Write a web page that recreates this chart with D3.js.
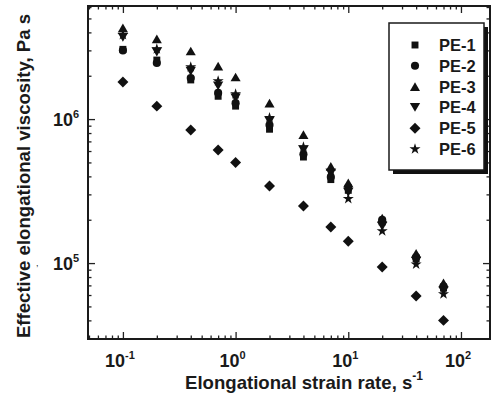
<!DOCTYPE html>
<html>
<head>
<meta charset="utf-8">
<script src="https://cdnjs.cloudflare.com/ajax/libs/d3/7.8.5/d3.min.js"></script>
<style>
  body { margin: 0; background: #fff; }
  text { font-family: "Liberation Sans", Arial, sans-serif; font-weight: bold; fill: #1a1a1a; }
</style>
</head>
<body>
<div id="chart"></div>
<script>
// strain rates (1/s) and effective elongational viscosity (Pa s) per sample
const rates = [0.1, 0.2, 0.4, 0.7, 1, 2, 4, 7, 10, 20, 40, 70];
const pe1 = [3.05e6, 2.57e6, 1.87e6, 1.44e6, 1.23e6, 8.5e5, 5.45e5, 3.8e5, 3.2e5, 1.93e5, 1.07e5, 6.7e4];
const pe2 = [3.0e6, 2.45e6, 1.93e6, 1.52e6, 1.29e6, 9.1e5, 5.7e5, 3.96e5, 3.37e5, 2.0e5, 1.1e5, 6.9e4];
const pe3 = [4.3e6, 3.6e6, 2.97e6, 2.33e6, 1.96e6, 1.29e6, 7.8e5, 4.7e5, 3.6e5, 2.05e5, 1.17e5, 7.3e4];
const pe4 = [3.7e6, 2.92e6, 2.15e6, 1.7e6, 1.4e6, 9.7e5, 6.1e5, 4.2e5, 3.1e5, 1.8e5, 1.03e5, 6.4e4];
const pe5 = [1.81e6, 1.23e6, 8.4e5, 6.1e5, 5.0e5, 3.43e5, 2.49e5, 1.78e5, 1.42e5, 9.4e4, 5.9e4, 4.0e4];
const pe6 = [3.85e6, 3.06e6, 2.3e6, 1.84e6, 1.49e6, 1.02e6, 6.4e5, 4.4e5, 2.8e5, 1.67e5, 9.8e4, 6.1e4];
const seriesNames = ['PE-1', 'PE-2', 'PE-3', 'PE-4', 'PE-5', 'PE-6'];
const xTickExp = [-1, 0, 1, 2];
const yTickExp = [5, 6];

const width = 494, height = 413;
const plot = { left: 88, right: 490, top: 6, bottom: 339 };

const svg = d3.select('#chart').append('svg')
    .attr('width', width)
    .attr('height', height);

const x = d3.scaleLog().domain([0.049, 181]).range([plot.left, plot.right]);
const y = d3.scaleLog().domain([2.97e4, 6.1e6]).range([plot.bottom, plot.top]);

// minor tick values inside the domain
function minors(scale) {
    let d = scale.domain(), out = [];
    for (let e = -3; e <= 8; e++) {
        for (let m = 2; m <= 9; m++) {
            let v = m * Math.pow(10, e);
            if (v > d[0] && v < d[1]) out.push(v);
        }
    }
    return out;
}
const xMajor = xTickExp.map(e => Math.pow(10, e));
const yMajor = yTickExp.map(e => Math.pow(10, e));

// ticks point inward on all four sides
function drawAxis(axisFn, scale, major, transform) {
    svg.append('g').attr('class', 'axis').attr('transform', transform)
        .call(axisFn(scale).tickValues(major).tickSize(-7).tickFormat(''));
    svg.append('g').attr('class', 'axis').attr('transform', transform)
        .call(axisFn(scale).tickValues(minors(scale)).tickSize(-3.5).tickFormat(''));
}
drawAxis(d3.axisBottom, x, xMajor, 'translate(0,' + plot.bottom + ')');
drawAxis(d3.axisTop, x, xMajor, 'translate(0,' + plot.top + ')');
drawAxis(d3.axisLeft, y, yMajor, 'translate(' + plot.left + ',0)');
drawAxis(d3.axisRight, y, yMajor, 'translate(' + plot.right + ',0)');
svg.selectAll('.axis path.domain').remove();
svg.selectAll('.axis line').attr('stroke', '#222').attr('stroke-width', 1.3);

// frame
svg.append('rect')
    .attr('x', plot.left).attr('y', plot.top)
    .attr('width', plot.right - plot.left).attr('height', plot.bottom - plot.top)
    .attr('fill', 'none').attr('stroke', '#1a1a1a').attr('stroke-width', 2);

// tick labels with superscript exponents
svg.selectAll('.xlab').data(xTickExp).enter().append('text')
    .attr('class', 'xlab')
    .attr('x', d => x(Math.pow(10, d)) - 3)
    .attr('y', 367)
    .attr('text-anchor', 'middle')
    .style('font-size', '18px')
    .each(function(d) {
        let t = d3.select(this);
        t.append('tspan').text('10');
        t.append('tspan').attr('dy', -8).style('font-size', '11px').text(d < 0 ? '-' + (-d) : d);
    });
svg.selectAll('.ylab').data(yTickExp).enter().append('text')
    .attr('class', 'ylab')
    .attr('x', 53)
    .attr('y', d => y(Math.pow(10, d)) + 7)
    .style('font-size', '18px')
    .each(function(d) {
        let t = d3.select(this);
        t.append('tspan').text('10');
        t.append('tspan').attr('dy', -8).style('font-size', '11px').text(d);
    });

// axis titles
let xt = svg.append('text')
    .attr('x', 185).attr('y', 389)
    .style('font-size', '18.6px');
xt.append('tspan').text('Elongational strain rate, s');
xt.append('tspan').attr('dy', -9).style('font-size', '12px').text('-1');

svg.append('text')
    .attr('transform', 'translate(30,176) rotate(-90)')
    .attr('text-anchor', 'middle')
    .style('font-size', '18.6px')
    .text('Effective elongational viscosity, Pa s');
svg.append('text')
    .attr('x', 36).attr('y', 266)
    .style('font-size', '9px').style('font-weight', 'normal')
    .text(',');

// marker shapes
const downTriangle = {
    draw: function(ctx, size) {
        let h = Math.sqrt(size * 4 / Math.sqrt(3)) * Math.sqrt(3) / 2;
        let w = h / Math.sqrt(3) * 2;
        ctx.moveTo(-w / 2, -h / 2);
        ctx.lineTo(w / 2, -h / 2);
        ctx.lineTo(0, h / 2);
        ctx.closePath();
    }
};
const upTriangle = {
    draw: function(ctx, size) {
        let h = Math.sqrt(size * 4 / Math.sqrt(3)) * Math.sqrt(3) / 2;
        let w = h / Math.sqrt(3) * 2;
        ctx.moveTo(0, -h / 2);
        ctx.lineTo(w / 2, h / 2);
        ctx.lineTo(-w / 2, h / 2);
        ctx.closePath();
    }
};
const squareDiamond = {
    draw: function(ctx, size) {
        let r = Math.sqrt(size / 2);
        ctx.moveTo(0, -r);
        ctx.lineTo(r, 0);
        ctx.lineTo(0, r);
        ctx.lineTo(-r, 0);
        ctx.closePath();
    }
};
const shapes = [
    d3.symbol(d3.symbolSquare, 48),
    d3.symbol(d3.symbolCircle, 52),
    d3.symbol(upTriangle, 44),
    d3.symbol(downTriangle, 46),
    d3.symbol(squareDiamond, 60),
    d3.symbol(d3.symbolStar, 38)
];
const allSeries = [pe1, pe2, pe3, pe4, pe5, pe6];

allSeries.forEach(function(vals, i) {
    svg.append('g').selectAll('path')
        .data(vals)
        .enter().append('path')
        .attr('d', shapes[i]())
        .attr('transform', (d, j) => 'translate(' + x(rates[j]) + ',' + y(d) + ')')
        .attr('fill', '#111');
});

// legend with drop shadow
const leg = svg.append('g');
leg.append('rect')
    .attr('x', 393).attr('y', 27).attr('width', 95).attr('height', 147)
    .attr('fill', '#111');
leg.append('rect')
    .attr('x', 389).attr('y', 23).attr('width', 95).attr('height', 147)
    .attr('fill', '#fff').attr('stroke', '#1a1a1a').attr('stroke-width', 1.5);
seriesNames.forEach(function(name, i) {
    let cy = 45 + i * 20.8;
    leg.append('path')
        .attr('d', shapes[i]())
        .attr('transform', 'translate(415,' + cy + ')')
        .attr('fill', '#111');
    leg.append('text')
        .attr('x', 439).attr('y', cy + 6)
        .style('font-size', '16.5px')
        .text(name);
});
</script>
</body>
</html>
